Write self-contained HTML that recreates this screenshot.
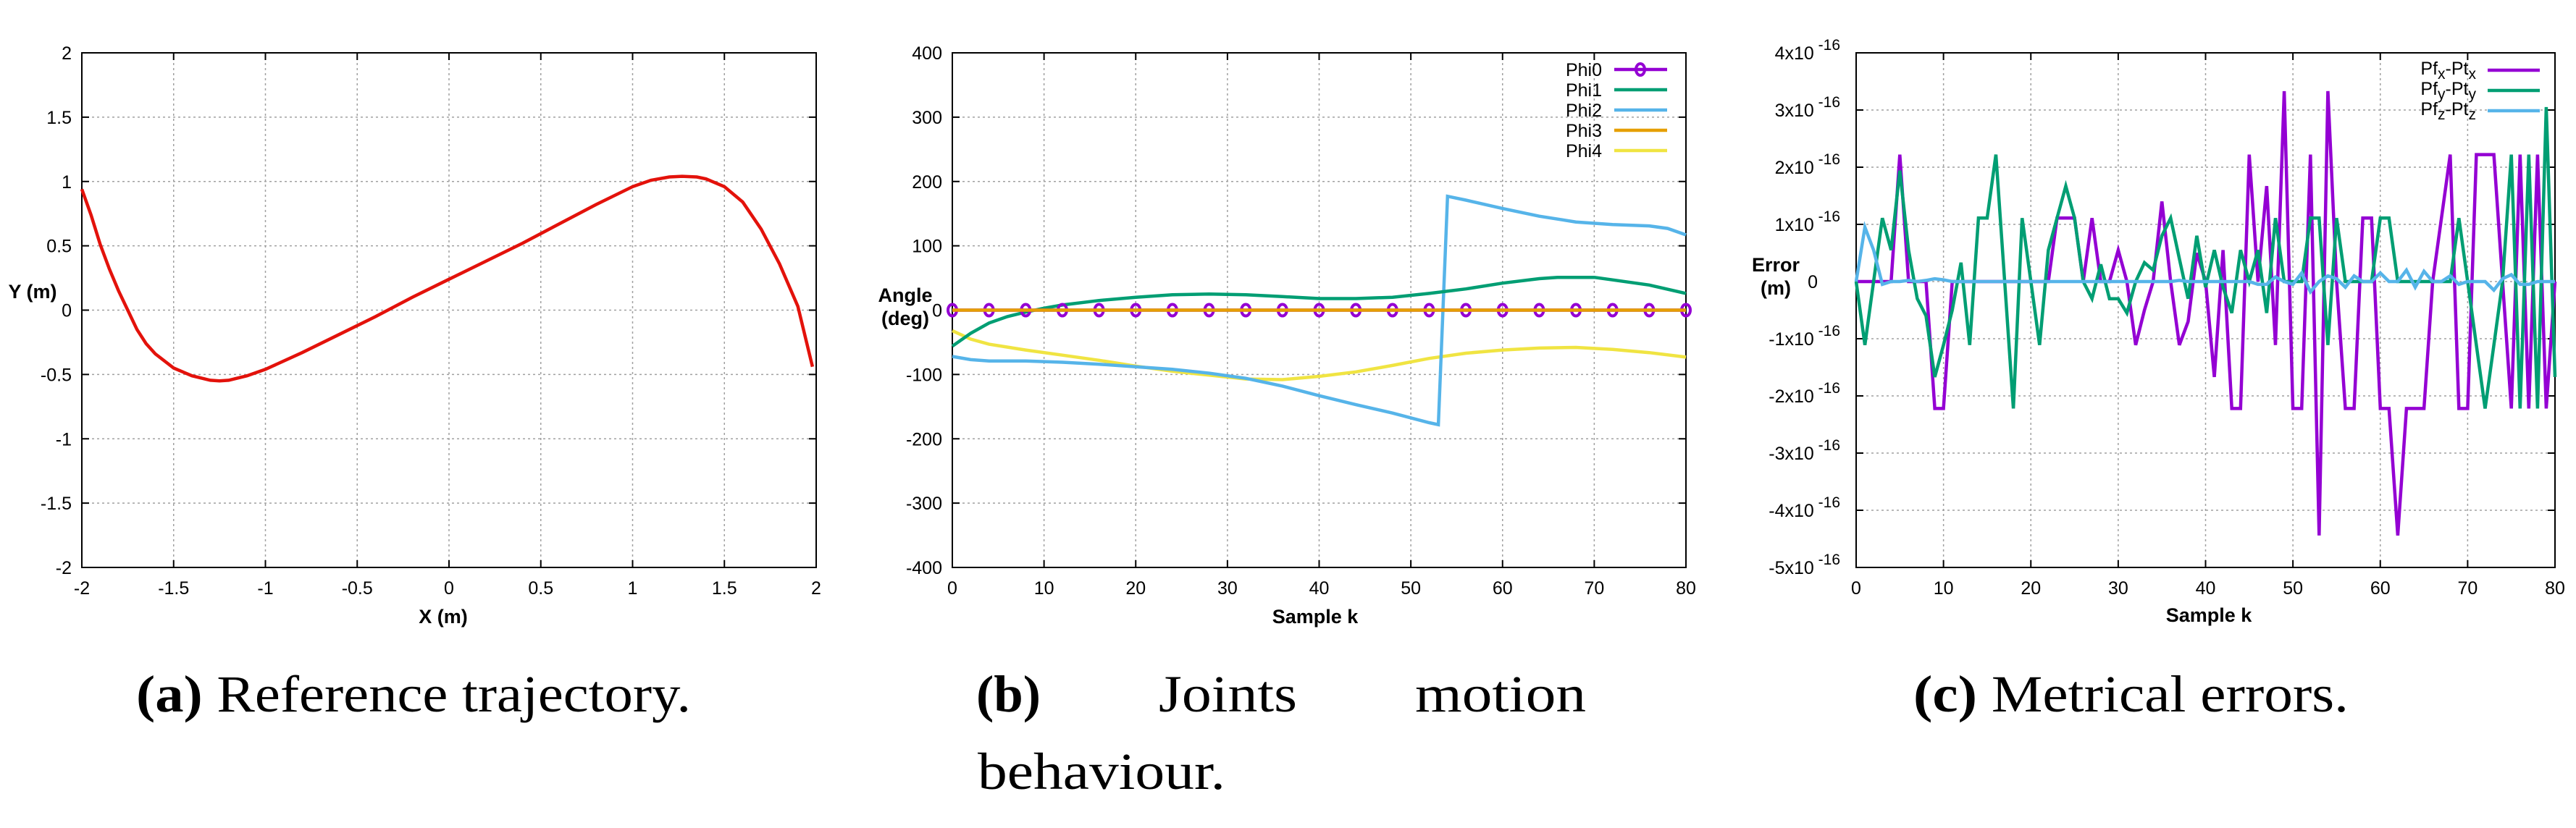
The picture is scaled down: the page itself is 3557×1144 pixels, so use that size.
<!DOCTYPE html>
<html><head><meta charset="utf-8">
<style>
html,body{margin:0;padding:0;background:#fff;}
svg{display:block;}
text{font-family:"Liberation Sans",sans-serif;}
.cap{font-family:"Liberation Serif",serif;font-size:72px;fill:#000;}
</style></head>
<body>
<svg id="fig" width="3557" height="1144" viewBox="0 0 3557 1144" xmlns="http://www.w3.org/2000/svg">
<g id="c1"></g>
<g id="c2"></g>
<g id="c3"></g>
<text class="cap" x="188" y="983" textLength="766" lengthAdjust="spacingAndGlyphs"><tspan font-weight="bold">(a)</tspan> Reference trajectory.</text>
<text class="cap" x="1348" y="983" font-weight="bold" textLength="89" lengthAdjust="spacingAndGlyphs">(b)</text>
<text class="cap" x="1600" y="983" textLength="191" lengthAdjust="spacingAndGlyphs">Joints</text>
<text class="cap" x="1954" y="983" textLength="236" lengthAdjust="spacingAndGlyphs">motion</text>
<text class="cap" x="1350" y="1090" textLength="342" lengthAdjust="spacingAndGlyphs">behaviour.</text>
<text class="cap" x="2642" y="983" textLength="601" lengthAdjust="spacingAndGlyphs"><tspan font-weight="bold">(c)</tspan> Metrical errors.</text>
</svg>
<script>
// ---- Chart 1 data ----
const trajX = [-2,-1.95,-1.9,-1.85,-1.8,-1.75,-1.7,-1.65,-1.6,-1.5,-1.4,-1.3,-1.25,-1.2,-1.1,-1,-0.8,-0.6,-0.4,-0.2,0,0.2,0.4,0.6,0.8,1,1.1,1.2,1.27,1.35,1.4,1.5,1.6,1.7,1.8,1.9,1.98];
const trajY = [0.94,0.74,0.51,0.32,0.15,0.0,-0.15,-0.26,-0.34,-0.45,-0.51,-0.545,-0.55,-0.545,-0.51,-0.46,-0.33,-0.19,-0.05,0.1,0.24,0.38,0.52,0.67,0.82,0.96,1.01,1.035,1.04,1.035,1.02,0.96,0.84,0.63,0.36,0.03,-0.44];
const c1XTicks = ["-2","-1.5","-1","-0.5","0","0.5","1","1.5","2"];
const c1YTicks = ["-2","-1.5","-1","-0.5","0","0.5","1","1.5","2"];
// ---- Chart 2 data ----
const phi1K = [0,2,4,6,8,10,12,16,20,24,28,32,36,40,44,48,52,56,60,64,66,70,72,76,80];
const phi1V = [-56,-36,-20,-10,-3,3,8,15,20,24,25,24,21,18,18,20,26,33,42,49,51,51,47,39,26];
const phi2K = [0,2,4,8,12,16,20,24,28,32,36,40,44,48,52,53,54,56,60,64,68,72,76,78,80];
const phi2V = [-72,-77,-79,-79,-81,-84,-88,-92,-98,-106,-118,-133,-147,-160,-175,-178,177,171,158,146,137,133,131,127,117];
const phi4K = [0,2,4,8,12,16,20,24,28,32,36,40,44,48,52,56,60,64,68,72,76,80];
const phi4V = [-32,-45,-53,-62,-70,-78,-87,-95,-101,-107,-108,-103,-96,-86,-75,-67,-62,-59,-58,-61,-66,-73];
const phi0K = [0,4,8,12,16,20,24,28,32,36,40,44,48,52,56,60,64,68,72,76,80];
const phi0V = [0,0,0,0,0,0,0,0,0,0,0,0,0,0,0,0,0,0,0,0,0];
const phi3K = [0,80];
const phi3V = [0,0];
const c2XTicks = ["0","10","20","30","40","50","60","70","80"];
const c2YTicks = ["-400","-300","-200","-100","0","100","200","300","400"];
// ---- Chart 3 data (units of 1e-16) ----
const errX = [0,0,0,0,0,2.22,0,0,0,-2.22,-2.22,0,0,0,0,0,0,0,0,0,0,0,0,1.11,1.11,1.11,0,1.11,0,0,0.55,0,-1.11,-0.5,0,1.4,0,-1.11,-0.7,0.5,0,-1.67,0.55,-2.22,-2.22,2.22,0,1.67,-1.11,3.33,-2.22,-2.22,2.22,-4.44,3.33,0,-2.22,-2.22,1.11,1.11,-2.22,-2.22,-4.44,-2.22,-2.22,-2.22,0,1.11,2.22,-2.22,-2.22,2.22,2.22,2.22,0,-2.22,2.22,-2.22,2.22,-2.22,0];
const errY = [0,-1.11,0,1.11,0.55,1.94,0.55,-0.3,-0.6,-1.67,-1.11,-0.5,0.33,-1.11,1.11,1.11,2.22,0,-2.22,1.11,0,-1.11,0.55,1.11,1.67,1.11,0,-0.3,0.3,-0.3,-0.3,-0.55,0,0.33,0.2,0.8,1.11,0.4,-0.3,0.8,-0.1,0.55,-0.1,-0.55,0.55,0,0.55,-0.55,1.11,0,0,0,1.11,1.11,-1.11,1.11,0,0,0,0,1.11,1.11,0,0,0,0,0,0,0,1.11,0,-1.11,-2.22,-1.11,0,2.22,-2.22,2.22,-2.22,3.05,-1.67];
const errZ = [0,0.95,0.55,-0.05,0,0,0.02,0,0.02,0.05,0.03,0,0,0,0,0,0,0,0,0,0,0,0,0,0,0,0,0,0,0,0,0,0,0,0,0,0,0.02,0,0,0,0,0,0,0,0,-0.05,-0.05,0.08,0,-0.05,0.15,-0.18,0,0.1,0.05,-0.1,0.1,0,0,0.15,0,0,0.2,-0.1,0.18,0,0,0.1,-0.05,0,0,0,-0.15,0.05,0.12,-0.05,-0.05,0,0,0];
const c3XTicks = ["0","10","20","30","40","50","60","70","80"];
const c3YTicks = ["-5","-4","-3","-2","-1","0","1","2","3","4"];

const NS="http://www.w3.org/2000/svg";
const YT=73, YB=784;
function mk(parent,tag,attrs){const e=document.createElementNS(NS,tag);for(const k in attrs)e.setAttribute(k,attrs[k]);parent.appendChild(e);return e;}
function scale(d0,d1,p0,p1){return v=>p0+(v-d0)/(d1-d0)*(p1-p0);}

function frame(g,x0,x1,sx,sy,xt,yt,yfmt){
  xt.forEach(t=>{const v=parseFloat(t),x=sx(v);
    if(x>x0+1&&x<x1-1){const gl=mk(g,'line',{x1:x,x2:x,y1:YT,y2:YB,stroke:'#a0a0a0','stroke-width':1.5,'stroke-dasharray':'3,4'});
      }
    mk(g,'line',{x1:x,x2:x,y1:YB,y2:YB-10,stroke:'#000','stroke-width':2});
    mk(g,'line',{x1:x,x2:x,y1:YT,y2:YT+10,stroke:'#000','stroke-width':2});
    const tx=mk(g,'text',{x:x,y:821,'text-anchor':'middle','font-size':25,fill:'#000'});tx.textContent=t;
    
  });
  yt.forEach(t=>{const v=parseFloat(t),y=sy(v);
    if(y>YT+1&&y<YB-1){const gl=mk(g,'line',{x1:x0,x2:x1,y1:y,y2:y,stroke:'#a0a0a0','stroke-width':1.5,'stroke-dasharray':'3,4'});
      }
    mk(g,'line',{x1:x0,x2:x0+10,y1:y,y2:y,stroke:'#000','stroke-width':2});
    mk(g,'line',{x1:x1,x2:x1-10,y1:y,y2:y,stroke:'#000','stroke-width':2});
    const tx=mk(g,'text',{x:x0-14,y:y+9,'text-anchor':'end','font-size':25,fill:'#000'});
    
    if(yfmt){yfmt(tx,t);}else tx.textContent=t;
  });
  const r=mk(g,'rect',{x:x0,y:YT,width:x1-x0,height:YB-YT,fill:'none',stroke:'#000','stroke-width':2});
  
}
function line(g,xs,ys,sx,sy,color,name){
  const d=xs.map((x,i)=>(i?'L':'M')+sx(x).toFixed(1)+','+sy(ys[i]).toFixed(1)).join('');
  const p=mk(g,'path',{d:d,fill:'none',stroke:color,'stroke-width':4.5,'stroke-linejoin':'miter'});
  return p;
}
function label(g,x,y,txt,name,anchor,size,bold){
  const t=mk(g,'text',{x:x,y:y,'text-anchor':anchor||'middle','font-size':size||27,'font-weight':bold?'bold':'normal',fill:'#000'});t.textContent=txt;
  return t;
}

// Chart 1
(function(){
  const g=document.getElementById('c1');const x0=113,x1=1127;
  const sx=scale(-2,2,x0,x1),sy=scale(-2,2,YB,YT);
  frame(g,x0,x1,sx,sy,c1XTicks,c1YTicks);
  line(g,trajX,trajY,sx,sy,'#e3120b','trajectory-line');
  label(g,612,861,'X (m)','x-axis-title','middle',27,true);
  label(g,45,412,'Y (m)','y-axis-title','middle',27,true);
})();

// Chart 2
(function(){
  const g=document.getElementById('c2');const x0=1315,x1=2328;
  const sx=scale(0,80,x0,x1),sy=scale(-400,400,YB,YT);
  frame(g,x0,x1,sx,sy,c2XTicks,c2YTicks);
  line(g,phi4K,phi4V,sx,sy,'#f0e442','phi4-line');
  line(g,phi2K,phi2V,sx,sy,'#56b4e9','phi2-line');
  line(g,phi1K,phi1V,sx,sy,'#009e73','phi1-line');
  line(g,phi0K,phi0V,sx,sy,'#9400d3','phi0-line');
  phi0K.forEach((k,i)=>{const c=mk(g,'ellipse',{cx:sx(k),cy:sy(phi0V[i]),rx:6,ry:8,fill:'none',stroke:'#9400d3','stroke-width':4});
    });
  line(g,phi3K,phi3V,sx,sy,'#e69f00','phi3-line');
  const names=['Phi0','Phi1','Phi2','Phi3','Phi4'],cols=['#9400d3','#009e73','#56b4e9','#e69f00','#f0e442'];
  names.forEach((n,i)=>{const y=96+i*28;
    label(g,2212,y+9,n,'legend-label-'+n.toLowerCase(),'end',25,false);
    const l=mk(g,'line',{x1:2229,x2:2302,y1:y,y2:y,stroke:cols[i],'stroke-width':4.5});
    
    if(i===0){const c=mk(g,'ellipse',{cx:2265,cy:y,rx:6,ry:8,fill:'none',stroke:'#9400d3','stroke-width':4});
      }
  });
  label(g,1816,861,'Sample k','x-axis-title','middle',27,true);
  label(g,1250,417,'Angle','y-axis-title-line1','middle',27,true);
  label(g,1250,449,'(deg)','y-axis-title-line2','middle',27,true);
})();

// Chart 3
(function(){
  const g=document.getElementById('c3');const x0=2563,x1=3528;
  const sx=scale(0,80,x0,x1),sy=scale(-5,4,YB,YT);
  frame(g,x0,x1,sx,sy,c3XTicks,c3YTicks,(tx,t)=>{
    if(t==='0'){tx.setAttribute('x',2510);tx.textContent='0';return;}
    tx.setAttribute('x',2541);
    const a=document.createElementNS(NS,'tspan');a.textContent=t+'x10';tx.appendChild(a);
    const b=document.createElementNS(NS,'tspan');b.setAttribute('dy','-13');b.setAttribute('font-size','21');b.textContent=' -16';tx.appendChild(b);
  });
  const ks=errX.map((v,i)=>i);
  line(g,ks,errX,sx,sy,'#9400d3','pfx-ptx-line');
  line(g,ks,errY,sx,sy,'#009e73','pfy-pty-line');
  line(g,ks,errZ,sx,sy,'#56b4e9','pfz-ptz-line');
  const leg=[['x','#9400d3'],['y','#009e73'],['z','#56b4e9']];
  leg.forEach((L,i)=>{const y=97+i*28;
    const t=mk(g,'text',{x:3419,y:y+6,'text-anchor':'end','font-size':25,fill:'#000'});
    
    t.innerHTML='Pf<tspan dy="6" font-size="21">'+L[0]+'</tspan><tspan dy="-6">-Pt</tspan><tspan dy="6" font-size="21">'+L[0]+'</tspan>';
    const l=mk(g,'line',{x1:3435,x2:3507,y1:y,y2:y,stroke:L[1],'stroke-width':4.5});
    
  });
  label(g,3050,859,'Sample k','x-axis-title','middle',27,true);
  label(g,2452,375,'Error','y-axis-title-line1','middle',27,true);
  label(g,2452,407,'(m)','y-axis-title-line2','middle',27,true);
})();
</script>
</body></html>
